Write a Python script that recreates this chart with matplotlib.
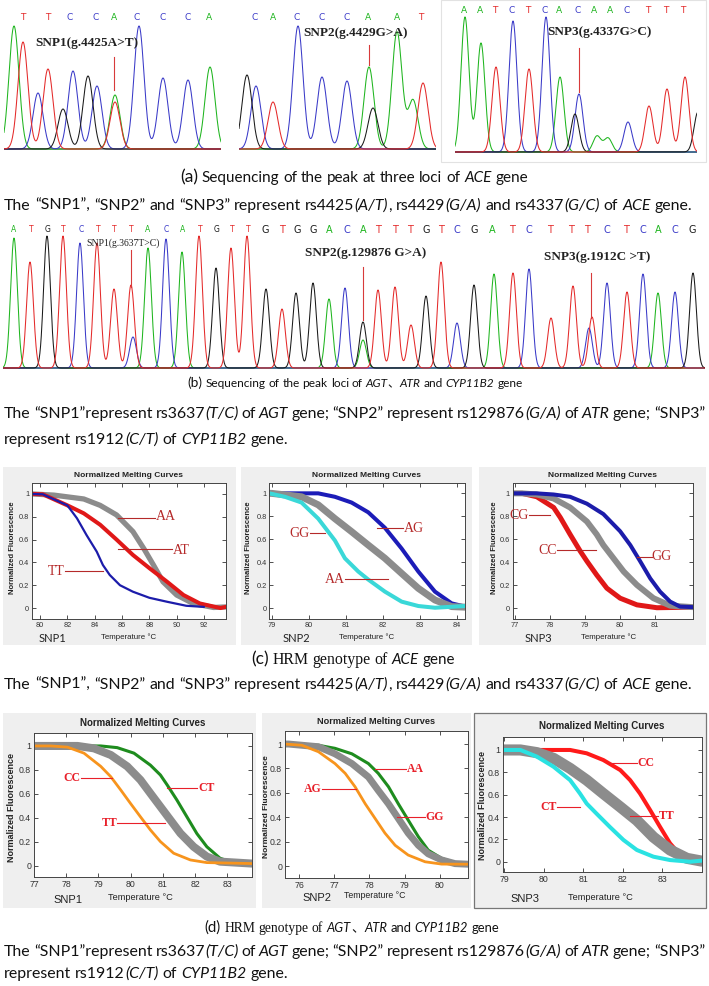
import re
import numpy as np
import matplotlib
matplotlib.use('Agg')
import matplotlib.pyplot as plt
from matplotlib import font_manager
from matplotlib.patches import Rectangle

W, H = 709, 986
names = {f.name for f in font_manager.fontManager.ttflist}
NARROW = 'Liberation Sans Narrow' if 'Liberation Sans Narrow' in names else 'Liberation Sans'
SANS = ['Lato', 'Noto Sans CJK SC', 'DejaVu Sans']
SERIF = ['Liberation Serif', 'DejaVu Serif']

# ---------------- sequencing data ----------------
# (a) SNP1 panel
a1_peak_x = [10, 19, 34, 44, 59, 69, 84, 93, 111, 111, 135, 159, 184, 206]
a1_peak_base = ['A', 'T', 'C', 'T', 'G', 'C', 'G', 'C', 'A', 'T', 'C', 'C', 'C', 'A']
a1_peak_h = [123, 107, 56, 80, 40, 78, 73, 63, 54, 47, 123, 71, 69, 82]
a1_letters = list("TTCCACCCA")
a1_letter_x = [19, 44, 66, 92, 110, 133, 159, 184, 205]
# (a) SNP2 panel
a2_peak_x = [8, 17, 34, 59, 83, 108, 130, 134, 158, 174, 184]
a2_peak_base = ['G', 'C', 'T', 'C', 'C', 'C', 'A', 'G', 'A', 'A', 'T']
a2_peak_h = [74, 63, 47, 123, 72, 68, 82, 41, 117, 49, 66]
a2_letters = list("CACCCAAT")
a2_letter_x = [16, 34, 58, 83, 108, 129, 158, 182]
# (a) SNP3 panel
a3_peak_x = [10, 26, 41, 58, 74, 91, 105, 120, 124, 142, 153, 173, 194, 212, 230, 243]
a3_peak_base = ['A', 'A', 'T', 'C', 'T', 'C', 'A', 'G', 'C', 'A', 'A', 'C', 'T', 'T', 'T', 'G']
a3_peak_h = [135, 109, 85, 131, 83, 135, 75, 38, 58, 16, 14, 30, 46, 63, 75, 40]
a3_letters = list("AATCTCACAACTTT")
a3_letter_x = [9, 25, 40, 57, 73, 90, 104, 123, 139, 155, 172, 193, 211, 228]
# (b) AGT / ATR / CYP11B2
b_peak_x = [11, 27, 44, 60, 77, 94, 111, 128, 130, 145, 163, 179, 196, 213, 228, 244,
            263, 279, 293, 310, 326, 342, 360, 360, 375, 392, 408, 423, 438, 454, 471,
            491, 510, 526, 548, 570, 589, 586, 604, 624, 640, 655, 672, 690]
b_peak_base = ['A', 'T', 'G', 'T', 'C', 'T', 'T', 'T', 'C', 'A', 'C', 'A', 'T', 'G', 'T', 'T',
               'G', 'T', 'G', 'G', 'A', 'C', 'A', 'G', 'T', 'T', 'T', 'G', 'T', 'C', 'G',
               'A', 'T', 'C', 'T', 'T', 'T', 'C', 'C', 'T', 'C', 'A', 'C', 'G']
b_peak_h = [130, 106, 132, 132, 125, 125, 79, 83, 31, 120, 129, 116, 132, 100, 120, 132,
            79, 59, 75, 85, 69, 80, 28, 46, 78, 81, 43, 72, 106, 45, 83,
            94, 95, 99, 50, 82, 51, 40, 85, 76, 94, 75, 76, 95]
b_letters = list("ATGTCTTTACATGTTGTGGACATTTGTCGATCTTTCTCACG")
b_letter_x = [11, 28, 45, 60, 78, 95, 111, 128, 145, 163, 180, 197, 214, 229, 245, 262,
              279, 294, 310, 326, 344, 360, 375, 392, 407, 423, 438, 454, 471, 489, 509,
              526, 547, 568, 584, 604, 623, 640, 655, 672, 689]

# ---------------- HRM melting curve data ----------------
c1_temp_AA = [79.4, 81.0, 83.2, 84.4, 85.6, 86.8, 87.6, 88.3, 89.0, 90.0, 91.2, 92.7, 93.6]
c1_AA = [1.0, 0.99, 0.956, 0.90, 0.816, 0.67, 0.52, 0.377, 0.23, 0.114, 0.04, 0.005, 0.01]
c1_temp_AT = [79.4, 80.2, 82.0, 83.2, 84.4, 85.6, 86.8, 88.0, 89.3, 90.5, 91.7, 93.2, 93.6]
c1_AT = [1.0, 0.997, 0.90, 0.83, 0.73, 0.60, 0.465, 0.35, 0.23, 0.114, 0.04, 0.0, 0.01]
c1_temp_TT = [79.4, 80.2, 82.0, 82.7, 83.4, 84.15, 84.6, 85.1, 85.85, 86.8, 88.0, 89.3, 90.7, 92.0]
c1_TT = [1.0, 0.997, 0.90, 0.787, 0.64, 0.494, 0.377, 0.29, 0.20, 0.143, 0.09, 0.055, 0.02, 0.01]

c2_temp_AG = [78.94, 80.26, 80.71, 81.16, 81.61, 82.06, 82.51, 82.96, 83.41, 83.86, 84.22]
c2_AG = [1.0, 1.0, 0.97, 0.92, 0.835, 0.70, 0.52, 0.32, 0.145, 0.043, 0.015]
c2_temp_AA = [78.94, 79.0, 79.81, 80.26, 80.71, 81.16, 81.61, 82.06, 82.51, 82.96, 83.41, 83.86, 84.22]
c2_AA = [1.0, 1.0, 0.97, 0.90, 0.78, 0.667, 0.55, 0.435, 0.304, 0.174, 0.072, 0.015, 0.01]
c2_temp_GG = [78.94, 79.36, 79.81, 80.26, 80.71, 80.98, 81.34, 81.61, 82.06, 82.51, 82.96, 83.41, 84.22]
c2_GG = [1.0, 0.97, 0.92, 0.78, 0.59, 0.435, 0.32, 0.25, 0.145, 0.058, 0.02, 0.005, 0.02]

c3_temp_CC = [76.93, 77.2, 77.62, 78.1, 78.29, 78.57, 78.86, 79.05, 79.33, 79.62, 80.0, 80.48, 81.05, 82.09]
c3_CC = [1.0, 1.0, 0.97, 0.877, 0.79, 0.643, 0.497, 0.41, 0.29, 0.175, 0.088, 0.03, 0.005, 0.01]
c3_temp_CG = [76.93, 77.2, 77.62, 78.1, 78.57, 79.05, 79.33, 79.52, 79.81, 80.1, 80.48, 80.95, 81.43, 82.09]
c3_CG = [1.0, 1.0, 0.99, 0.955, 0.877, 0.755, 0.643, 0.55, 0.435, 0.32, 0.203, 0.088, 0.023, 0.01]
c3_temp_GG = [76.93, 77.6, 78.1, 78.57, 79.05, 79.52, 80.0, 80.29, 80.57, 80.86, 81.14, 81.43, 81.71, 82.09]
c3_GG = [1.0, 1.0, 0.99, 0.97, 0.91, 0.82, 0.67, 0.55, 0.41, 0.26, 0.145, 0.058, 0.015, 0.01]

d1_temp_CT = [77.03, 79.07, 79.58, 80.1, 80.61, 80.92, 81.13, 81.43, 81.74, 82.05, 82.36, 82.77, 83.18, 83.76]
d1_CT = [1.0, 1.0, 0.986, 0.94, 0.84, 0.758, 0.675, 0.55, 0.41, 0.27, 0.16, 0.064, 0.028, 0.02]
d1_temp_TT = [77.03, 78.35, 78.86, 79.38, 79.89, 80.3, 80.61, 80.92, 81.23, 81.54, 81.95, 82.36, 82.77, 83.76]
d1_TT = [1.0, 1.0, 0.98, 0.925, 0.83, 0.717, 0.605, 0.494, 0.383, 0.272, 0.16, 0.078, 0.036, 0.02]
d1_temp_CC = [77.03, 77.52, 78.04, 78.55, 79.07, 79.38, 79.69, 79.99, 80.3, 80.61, 80.92, 81.33, 81.85, 82.36, 83.76]
d1_CC = [1.0, 1.0, 0.99, 0.94, 0.83, 0.744, 0.633, 0.522, 0.41, 0.30, 0.203, 0.106, 0.05, 0.028, 0.02]

d2_temp_AA = [75.6, 75.7, 76.55, 77.02, 77.5, 77.97, 78.25, 78.54, 78.82, 79.1, 79.39, 79.67, 80.05, 80.43, 80.8]
d2_AA = [1.0, 1.0, 0.99, 0.965, 0.92, 0.84, 0.76, 0.65, 0.51, 0.377, 0.24, 0.13, 0.063, 0.027, 0.015]
d2_temp_GG = [75.6, 75.7, 76.55, 77.02, 77.5, 77.97, 78.25, 78.54, 78.82, 79.1, 79.39, 79.67, 80.05, 80.43, 80.8]
d2_GG = [1.0, 1.0, 0.978, 0.92, 0.84, 0.73, 0.62, 0.51, 0.39, 0.27, 0.17, 0.10, 0.05, 0.02, 0.015]
d2_temp_AG = [75.6, 76.08, 76.55, 77.02, 77.31, 77.59, 77.88, 78.16, 78.44, 78.73, 79.1, 79.58, 80.05, 80.8]
d2_AG = [1.0, 0.99, 0.937, 0.84, 0.76, 0.65, 0.51, 0.39, 0.27, 0.17, 0.09, 0.035, 0.016, 0.015]

d3_temp_CC = [78.97, 79.83, 80.67, 81.09, 81.51, 81.94, 82.19, 82.44, 82.70, 82.95, 83.2, 83.46, 83.71, 84.01]
d3_CC = [0.99, 1.0, 1.0, 0.97, 0.91, 0.82, 0.73, 0.61, 0.46, 0.31, 0.165, 0.06, 0.015, 0.01]
d3_temp_TT = [78.97, 79.41, 79.83, 80.25, 80.67, 81.09, 81.51, 81.94, 82.36, 82.78, 83.2, 83.63, 84.01]
d3_TT = [1.0, 1.0, 0.976, 0.925, 0.835, 0.73, 0.61, 0.49, 0.37, 0.22, 0.105, 0.03, 0.005]
d3_temp_CT = [78.97, 79.41, 79.83, 80.25, 80.67, 80.92, 81.09, 81.34, 81.68, 82.02, 82.36, 82.78, 83.2, 83.71, 84.01]
d3_CT = [1.0, 1.0, 0.94, 0.85, 0.73, 0.61, 0.52, 0.43, 0.31, 0.195, 0.105, 0.045, 0.015, 0.0, 0.01]

# ---------------- captions ----------------
cap_a = [("(a)", 'big'), (" Sequencing of the peak at three loci of ", 'n'), ("ACE", 'i'), (" gene", 'n')]
line_ace = [("The “SNP1”, “SNP2” and “SNP3” represent rs4425", 'n'), ("(A/T)", 'i'), (", rs4429", 'n'),
            ("(G/A)", 'i'), (" and rs4337", 'n'), ("(G/C)", 'i'), (" of ", 'n'), ("ACE", 'i'), (" gene.", 'n')]
cap_b = [("(b)", 'big'), (" Sequencing of the peak loci of ", 'n'), ("AGT", 'i'), ("、", 'n'),
         ("ATR", 'i'), (" and ", 'n'), ("CYP11B2", 'i'), (" gene", 'n')]
line_b1 = [("The “SNP1”represent rs3637", 'n'), ("(T/C)", 'i'), (" of ", 'n'), ("AGT", 'i'),
           (" gene; “SNP2” represent rs129876", 'n'), ("(G/A)", 'i'), (" of ", 'n'), ("ATR", 'i'),
           (" gene; “SNP3”", 'n')]
line_b2 = [("represent rs1912", 'n'), ("(C/T)", 'i'), (" of ", 'n'), ("CYP11B2", 'i'), (" gene.", 'n')]
cap_c = [("(c)", 'big'), (" HRM genotype of ", 'serif'), ("ACE", 'i'), (" gene", 'n')]
cap_d = [("(d)", 'big'), (" HRM genotype of ", 'serif'), ("AGT", 'i'), ("、", 'n'),
         ("ATR", 'i'), (" and ", 'n'), ("CYP11B2", 'i'), (" gene", 'n')]

BASE_COLORS = {'A': '#1fb51f', 'C': '#3a3ac8', 'G': '#1a1a1a', 'T': '#e42a2a'}
SNP_RED = '#d83a3a'

fig = plt.figure(figsize=(W / 100, H / 100), dpi=100)
fig.patch.set_facecolor('white')
renderer = fig.canvas.get_renderer()


def px_axes(x0, y0, x1, y1):
    return fig.add_axes([x0 / W, 1 - y1 / H, (x1 - x0) / W, (y1 - y0) / H])


def box(x0, y0, x1, y1, fc, ec='none', lw=0.8):
    r = Rectangle((x0 / W, 1 - y1 / H), (x1 - x0) / W, (y1 - y0) / H, transform=fig.transFigure,
                  facecolor=fc, edgecolor=ec, lw=lw, zorder=-5)
    fig.add_artist(r)


def style(st, size):
    if st == 'big':
        return dict(family=SANS, fontsize=size * 1.15)
    if st == 'i':
        return dict(family=SANS, fontsize=size, style='italic')
    if st == 'serif':
        return dict(family=SERIF, fontsize=size * 1.05)
    return dict(family=SANS, fontsize=size)


def text_w(t):
    return t.get_window_extent(renderer=renderer).width


def line_width(pieces, size):
    tot = 0
    for s, st in pieces:
        t = fig.text(0, 0, s, **style(st, size))
        tot += text_w(t)
        t.remove()
    return tot


def rich_line(pieces, y, size, x0=4, cx=None, justify=None):
    # words are placed one by one so italics can sit inside a line
    toks = []
    for s, st in pieces:
        for p in re.split(r'( )', s):
            if p:
                toks.append((p, st))
    objs = []
    for p, st in toks:
        if p == ' ':
            objs.append(None)
        else:
            objs.append(fig.text(0, 1 - y / H, p, va='baseline', color='#111111', **style(st, size)))
    a = fig.text(0, 0, 'n n', **style('n', size))
    b = fig.text(0, 0, 'nn', **style('n', size))
    space = text_w(a) - text_w(b)
    a.remove()
    b.remove()
    widths = [space if o is None else text_w(o) for o in objs]
    total = sum(widths)
    nsp = objs.count(None)
    extra = (justify - total) / nsp if (justify and nsp) else 0
    x = cx - total / 2 if cx is not None else x0
    for o, w in zip(objs, widths):
        if o is None:
            x += w + extra
        else:
            o.set_x(x / W)
            x += w


def chromatogram(x0, y_top, x1, y_base, peak_x, peak_base, peak_h, sigma,
                 letters, letter_x, letter_y, letter_sizes):
    ax = px_axes(x0, y_top, x1, y_base + 2)
    width = x1 - x0
    xs = np.linspace(0, width, 2000)
    for b in 'ACGT':
        trace = np.zeros_like(xs)
        for p, pb, ph in zip(peak_x, peak_base, peak_h):
            if pb == b:
                trace += ph * np.exp(-0.5 * ((xs - p) / sigma) ** 2)
        ax.plot(xs, trace, color=BASE_COLORS[b], lw=0.75)
    ax.set_xlim(0, width)
    ax.set_ylim(-2, y_base - y_top)
    ax.axhline(0, color='#8a8a8a', lw=1.3, zorder=0)
    ax.axis('off')
    for l, lx, ls in zip(letters, letter_x, letter_sizes):
        ax.text(lx, y_base - letter_y, l, color=BASE_COLORS[l], fontsize=ls, ha='center',
                va='center', family='DejaVu Sans')
    return ax


def snp_mark(ax, x0, y_base, label, lx, ly, mx, my0, my1, size, weight='bold'):
    ax.plot([mx - x0, mx - x0], [y_base - my0, y_base - my1], color=SNP_RED, lw=0.8)
    ax.text(lx - x0, y_base - ly, label, ha='center', va='center', fontsize=size,
            family=SERIF, weight=weight, color='#222222')


# ---------------- (a) chromatograms ----------------
ax = chromatogram(4, 0, 221, 149, a1_peak_x, a1_peak_base, a1_peak_h, 5.0,
                  a1_letters, a1_letter_x, 17, [6.5] * 9)
snp_mark(ax, 4, 149, "SNP1(g.4425A>T)", 87, 43, 114, 57, 90, 9.5)
ax = chromatogram(239, 0, 436, 149, a2_peak_x, a2_peak_base, a2_peak_h, 5.0,
                  a2_letters, a2_letter_x, 17, [6.5] * 8)
snp_mark(ax, 239, 149, "SNP2(g.4429G>A)", 356, 33, 369, 45, 65, 9.5)
box(441, 0, 706, 162, 'none', '#e2e2e2', 0.8)
ax = chromatogram(455, 2, 697, 152, a3_peak_x, a3_peak_base, a3_peak_h, 4.0,
                  a3_letters, a3_letter_x, 10, [6.5] * 14)
snp_mark(ax, 455, 152, "SNP3(g.4337G>C)", 600, 32, 579, 48, 92, 9.5)

size_main = 10 * 688 / line_width(line_ace, 10)
rich_line(cap_a, 182, 350 / line_width(cap_a, 10) * 10, cx=354)
rich_line(line_ace, 210, size_main, x0=4)

# ---------------- (b) chromatogram ----------------
b_sizes = [5.5] * 15 + [7] * (len(b_letters) - 15)
ax = chromatogram(3, 218, 705, 368, b_peak_x, b_peak_base, b_peak_h, 3.4,
                  b_letters, b_letter_x, 230, b_sizes)
snp_mark(ax, 3, 368, "SNP1(g.3637T>C)", 123, 243, 131, 250, 287, 7, weight='normal')
snp_mark(ax, 3, 368, "SNP2(g.129876 G>A)", 366, 253, 363, 267, 320, 9.5)
snp_mark(ax, 3, 368, "SNP3(g.1912C >T)", 597, 257, 591, 273, 318, 9.5)

rich_line(cap_b, 387, 335 / line_width(cap_b, 10) * 10, cx=355)
rich_line(line_b1, 418, size_main, x0=4, justify=701)
rich_line(line_b2, 444, size_main, x0=4)


# ---------------- HRM panels ----------------
def hrm(rect, xlim, ylim, xticks, fs):
    ax = px_axes(*rect)
    ax.set_xlim(xlim)
    ax.set_ylim(ylim)
    ax.set_xticks(xticks)
    ax.set_xticklabels([str(t) for t in xticks])
    ax.set_yticks([0, 0.2, 0.4, 0.6, 0.8, 1])
    ax.set_yticklabels(['0', '0.2', '0.4', '0.6', '0.8', '1'])
    ax.tick_params(direction='in', length=3, width=0.6, top=True, right=True,
                   labelsize=fs, pad=2, colors='#333333')
    for lab in ax.get_xticklabels() + ax.get_yticklabels():
        lab.set_family(NARROW)
    for s in ax.spines.values():
        s.set_linewidth(0.7)
        s.set_color('#444444')
    return ax


def curve(ax, t, v, color, lw):
    ax.plot(t, v, color=color, lw=lw, solid_joinstyle='round', solid_capstyle='round')


def geno(ax, text, tx, ty, lx0, lx1, ly, ha, color, size, weight='normal'):
    ax.plot([lx0, lx1], [ly, ly], color=color, lw=0.8)
    ax.text(tx, ty, text, ha=ha, va='center', color=color, fontsize=size,
            family=SERIF, weight=weight)


def panel_text(title_x, title_y, ylab_x, ylab_y, snp, snp_x, temp_x, bottom_y, fs, snp_family, snp_fs):
    fig.text(title_x / W, 1 - title_y / H, "Normalized Melting Curves", ha='center', va='center',
             fontsize=fs, weight='bold', family=NARROW, color='#222222')
    fig.text(ylab_x / W, 1 - ylab_y / H, "Normalized Fluorescence", ha='center', va='center',
             rotation=90, fontsize=fs * 0.92, weight='bold', family=NARROW, color='#222222')
    fig.text(snp_x / W, 1 - (bottom_y + 2) / H, snp, ha='center', va='center',
             fontsize=snp_fs, family=snp_family, color='#222222')
    fig.text(temp_x / W, 1 - bottom_y / H, "Temperature °C", ha='center', va='center',
             fontsize=fs * 0.95, family=NARROW, color='#222222')


C_RED = '#b52a2a'
# (c) grey backgrounds
box(3, 467, 236, 645, '#efefef')
box(241, 467, 472, 645, '#efefef')
box(479, 467, 706, 645, '#efefef')

ax = hrm((32, 483, 226, 619), (79.41, 93.61), (-0.096, 1.096), [80, 82, 84, 86, 88, 90, 92], 5.3)
curve(ax, c1_temp_AA, c1_AA, '#8c8c8c', 3.8)
curve(ax, c1_temp_AT, c1_AT, '#e01818', 2.9)
curve(ax, c1_temp_TT, c1_TT, '#1c1caa', 1.6)
geno(ax, "AA", 88.45, 0.80, 85.71, 88.41, 0.79, 'left', C_RED, 10)
geno(ax, "AT", 89.7, 0.50, 85.71, 89.66, 0.516, 'left', C_RED, 10)
geno(ax, "TT", 81.8, 0.32, 81.83, 84.61, 0.328, 'right', C_RED, 10)
panel_text(129, 475, 12, 548, "SNP1", 52, 129, 637, 6, SANS, 8)

ax = hrm((269.3, 483, 465, 619), (78.94, 84.22), (-0.093, 1.09), [79, 80, 81, 82, 83, 84], 5.3)
curve(ax, c2_temp_AG, c2_AG, '#1c1cb8', 2.9)
curve(ax, c2_temp_AA, c2_AA, '#8c8c8c', 5.0)
curve(ax, c2_temp_GG, c2_GG, '#3ad8d8', 2.9)
geno(ax, "GG", 80.04, 0.652, 80.04, 80.45, 0.652, 'right', C_RED, 10)
geno(ax, "AG", 82.57, 0.696, 81.84, 82.55, 0.696, 'left', C_RED, 10)
geno(ax, "AA", 80.98, 0.252, 80.98, 82.14, 0.252, 'right', C_RED, 10)
panel_text(367, 475, 249, 548, "SNP2", 296, 367, 637, 6, SANS, 8)

ax = hrm((512.7, 483, 693.3, 619), (76.93, 82.09), (-0.093, 1.09), [77, 78, 79, 80, 81], 5.3)
curve(ax, c3_temp_CC, c3_CC, '#e01818', 3.6)
curve(ax, c3_temp_CG, c3_CG, '#8c8c8c', 4.3)
curve(ax, c3_temp_GG, c3_GG, '#1c1caa', 2.9)
geno(ax, "CG", 77.4, 0.81, 77.4, 78.0, 0.81, 'right', C_RED, 10)
geno(ax, "CC", 78.2, 0.507, 78.2, 79.31, 0.507, 'right', C_RED, 10)
geno(ax, "GG", 80.9, 0.449, 80.48, 80.9, 0.449, 'left', C_RED, 10)
panel_text(603, 475, 494, 548, "SNP3", 538, 609, 637, 6, SANS, 8)

rich_line(cap_c, 664, 204 / line_width(cap_c, 10) * 10, cx=353)
rich_line(line_ace, 689, size_main, x0=4)

# (d) grey backgrounds
D_RED = '#e8202a'
box(3, 713, 256, 908, '#efefef')
box(262, 713, 471, 908, '#efefef')
box(474, 713, 706, 908, '#efefef', '#777777', 0.9)

ax = hrm((34, 733, 252, 877), (77.03, 83.76), (-0.092, 1.108), [77, 78, 79, 80, 81, 82, 83], 6.3)
curve(ax, d1_temp_CT, d1_CT, '#1e8c1e', 2.2)
curve(ax, d1_temp_TT, d1_TT, '#8c8c8c', 5.8)
curve(ax, d1_temp_CC, d1_CC, '#f7941d', 2.0)
geno(ax, "CC", 78.45, 0.73, 78.45, 79.43, 0.73, 'right', D_RED, 8.5, 'bold')
geno(ax, "CT", 82.1, 0.648, 81.13, 82.05, 0.648, 'left', D_RED, 8.5, 'bold')
geno(ax, "TT", 79.58, 0.36, 79.58, 81.07, 0.36, 'right', D_RED, 8.5, 'bold')
panel_text(143, 723, 12, 807, "SNP1", 68, 140, 898, 7.0, NARROW, 8)

ax = hrm((285, 731, 468, 878), (75.6, 80.8), (-0.098, 1.107), [76, 77, 78, 79, 80], 6.3)
curve(ax, d2_temp_AA, d2_AA, '#1e8c1e', 2.2)
curve(ax, d2_temp_GG, d2_GG, '#8c8c8c', 5.0)
curve(ax, d2_temp_AG, d2_AG, '#f7941d', 2.0)
geno(ax, "AA", 79.06, 0.793, 78.16, 79.03, 0.793, 'left', D_RED, 8.5, 'bold')
geno(ax, "AG", 76.65, 0.629, 76.65, 77.61, 0.629, 'right', D_RED, 8.5, 'bold')
geno(ax, "GG", 79.6, 0.404, 78.78, 79.58, 0.404, 'left', D_RED, 8.5, 'bold')
panel_text(376, 722, 266, 807, "SNP2", 317, 375, 896, 6.6, NARROW, 8)

ax = hrm((503, 737, 702, 872), (78.97, 84.01), (-0.092, 1.116), [79, 80, 81, 82, 83], 6.3)
curve(ax, d3_temp_CC, d3_CC, '#ff1a1a', 2.9)
curve(ax, d3_temp_TT, d3_TT, '#8c8c8c', 8.0)
curve(ax, d3_temp_CT, d3_CT, '#2ae2e2', 2.9)
geno(ax, "CC", 82.38, 0.886, 81.63, 82.36, 0.886, 'left', D_RED, 8.5, 'bold')
geno(ax, "CT", 80.34, 0.492, 80.34, 80.92, 0.492, 'right', D_RED, 8.5, 'bold')
geno(ax, "TT", 82.92, 0.41, 82.19, 82.9, 0.41, 'left', D_RED, 8.5, 'bold')
panel_text(602, 726, 482, 805, "SNP3", 525, 600, 897, 7.0, NARROW, 8)

rich_line(cap_d, 932, 295 / line_width(cap_d, 10) * 10, cx=352)
rich_line(line_b1, 956, size_main, x0=4, justify=701)
rich_line(line_b2, 978, size_main, x0=4)

fig.savefig('out.png', dpi=100)
